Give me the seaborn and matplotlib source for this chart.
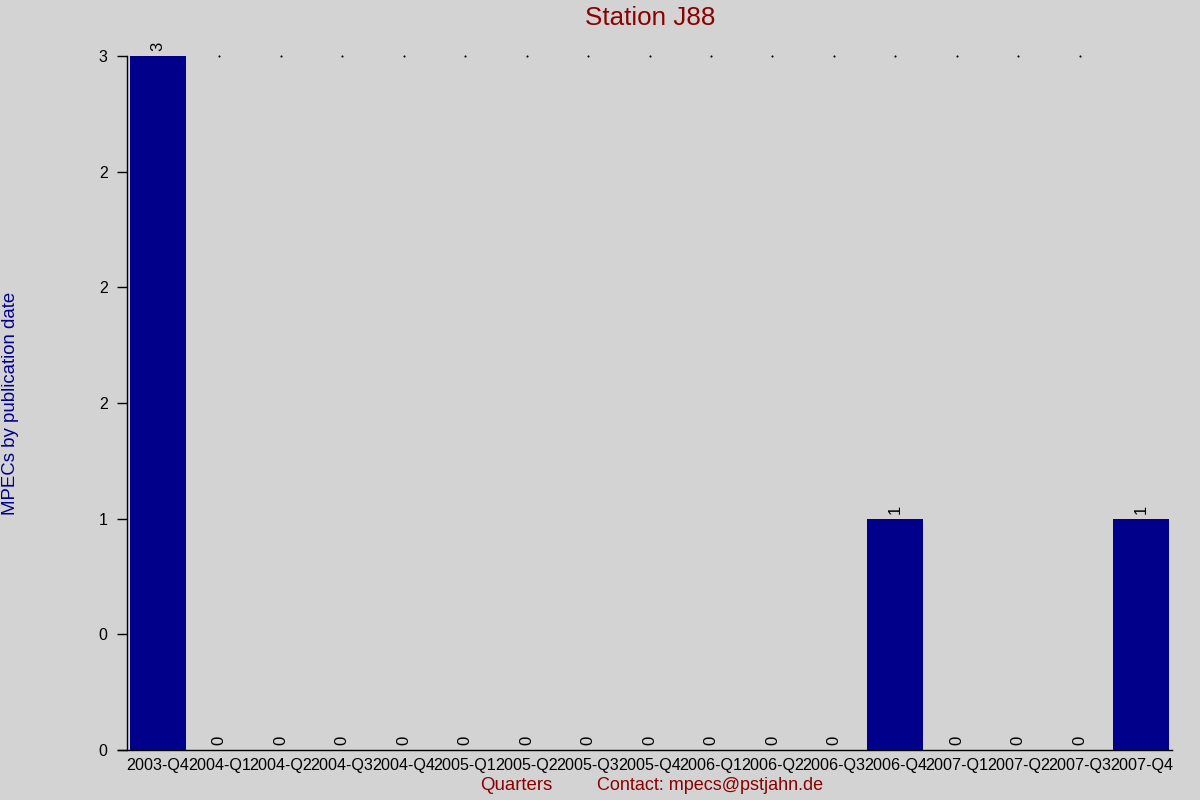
import matplotlib
matplotlib.use("Agg")
import matplotlib.pyplot as plt
import seaborn as sns
import pandas as pd
from matplotlib.ticker import FuncFormatter, MultipleLocator

quarters = ["2003-Q4", "2004-Q1", "2004-Q2", "2004-Q3", "2004-Q4", "2005-Q1",
            "2005-Q2", "2005-Q3", "2005-Q4", "2006-Q1", "2006-Q2", "2006-Q3",
            "2006-Q4", "2007-Q1", "2007-Q2", "2007-Q3", "2007-Q4"]
counts = [3, 0, 0, 0, 0, 0, 0, 0, 0, 0, 0, 0, 1, 0, 0, 0, 1]

df = pd.DataFrame({"quarter": quarters, "count": counts})

sns.set_style("white")
plt.rcParams["font.family"] = ["Liberation Sans", "DejaVu Sans"]

bg = "#D3D3D3"
fig = plt.figure(figsize=(12, 8), dpi=100, facecolor=bg)
ax = fig.add_axes([127/1200, 1 - 750/800, (1172 - 127)/1200, (750 - 56)/800])
ax.set_facecolor(bg)

sns.barplot(data=df, x="quarter", y="count", color="#00008B", width=0.91,
            saturation=1, ax=ax, edgecolor="none")

ymax = max(counts)
ax.set_xlim(-0.5, len(quarters) - 0.5)
ax.set_ylim(0, ymax)

# value labels
for i, v in enumerate(counts):
    ax.annotate(str(v), (i, v), xytext=(0, 3.5), textcoords="offset points",
                rotation=90, ha="center", va="bottom", fontsize=12, color="black",
                annotation_clip=False)

# tiny dots along top for interior slots
ax.plot(list(range(1, len(quarters) - 1)), [ymax] * (len(quarters) - 2),
        linestyle="none", marker="s", ms=0.5, color="black", clip_on=False)

ax.yaxis.set_major_locator(MultipleLocator(0.5))
ax.yaxis.set_major_formatter(FuncFormatter(lambda v, p: "%.0f" % v))
ax.tick_params(axis="y", left=True, length=7, width=1, labelsize=11.5, colors="black", pad=7)
ax.tick_params(axis="x", bottom=False, length=0, labelsize=11.6, pad=6,
               labelcolor="black")

for s in ["top", "right"]:
    ax.spines[s].set_visible(False)
ax.spines["left"].set_color("black")
ax.spines["bottom"].set_color("black")
ax.spines["left"].set_linewidth(1)
ax.spines["bottom"].set_linewidth(1)
ax.spines["bottom"].set_bounds(-0.65, len(quarters) - 0.5)

ax.set_xlabel("")
ax.set_ylabel("")

fig.text(650/1200, 1 - 18/800, "Station J88", color="#8B0000", fontsize=18.7,
         ha="center", va="center")
fig.text(11/1200, 1 - 403/800, "MPECs by publication date", color="#00008B",
         fontsize=13.4, rotation=90, ha="center", va="center")
fig.text(516/1200, 1 - 786/800, "Quarters", color="#8B0000", fontsize=13.4,
         ha="center", va="center")
fig.text(710/1200, 1 - 786/800, "Contact: mpecs@pstjahn.de", color="#8B0000",
         fontsize=13.0, ha="center", va="center")

fig.savefig("out.png", dpi=100, facecolor=bg)
